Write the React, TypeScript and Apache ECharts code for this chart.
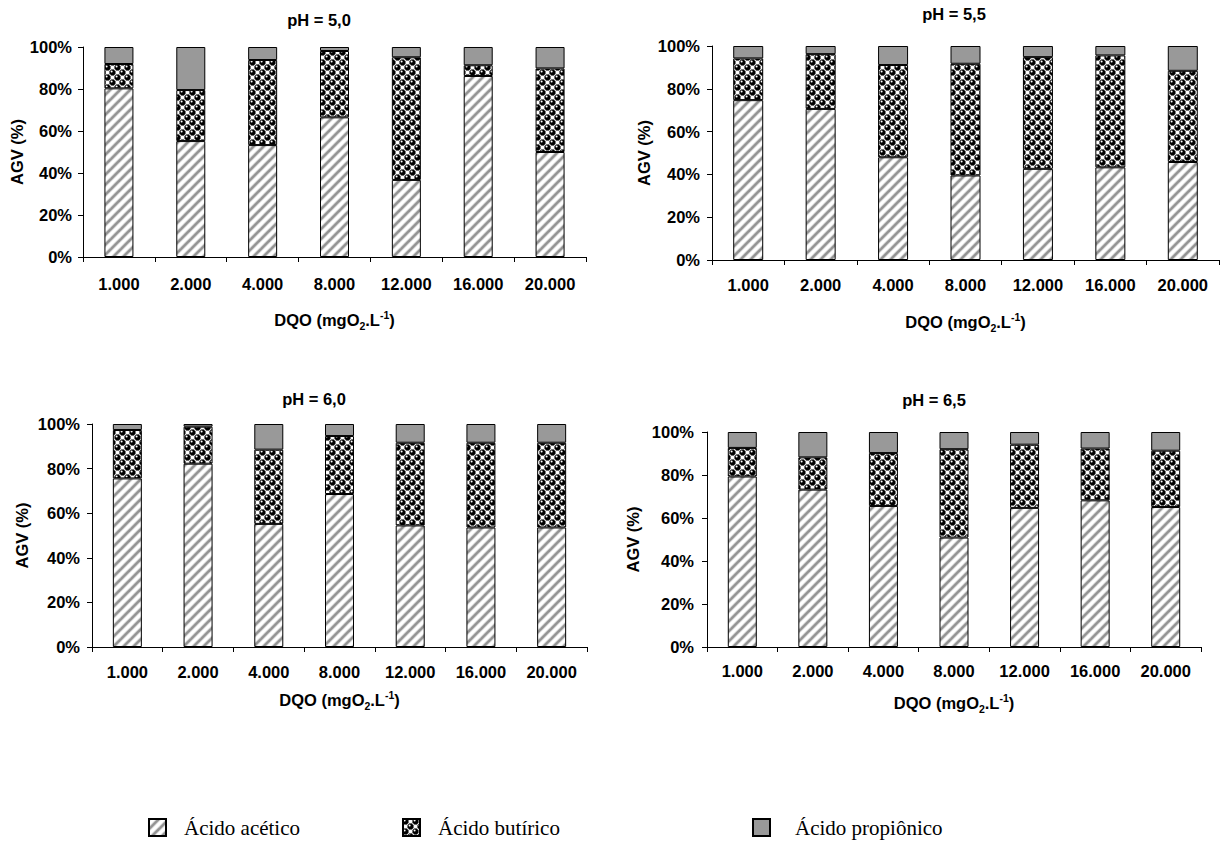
import React, { useEffect, useRef } from 'react';
import * as echarts from 'echarts';

// ---- Data ----
const dqoLabels = ['1.000', '2.000', '4.000', '8.000', '12.000', '16.000', '20.000'];
const seriesNames = ['Ácido acético', 'Ácido butírico', 'Ácido propiônico'];
const panelTitles = ['pH = 5,0', 'pH = 5,5', 'pH = 6,0', 'pH = 6,5'];
const yMin = 0;
const yMax = 100;
const yStep = 20;

const acetic50 = [80.3, 55.2, 53.3, 66.5, 36.7, 86.2, 50.0];
const butyric50 = [11.6, 24.3, 40.5, 31.6, 58.4, 5.1, 39.8];
const propionic50 = [8.1, 20.5, 6.2, 1.9, 4.9, 8.7, 10.2];

const acetic55 = [74.7, 70.6, 48.0, 39.5, 42.6, 43.3, 45.8];
const butyric55 = [19.5, 25.6, 43.1, 52.2, 52.2, 52.3, 42.6];
const propionic55 = [5.8, 3.8, 8.9, 8.3, 5.2, 4.4, 11.6];

const acetic60 = [75.6, 82.2, 55.2, 68.6, 54.5, 53.6, 53.6];
const butyric60 = [21.7, 16.6, 33.3, 26.0, 37.1, 38.0, 38.0];
const propionic60 = [2.7, 1.2, 11.5, 5.4, 8.4, 8.4, 8.4];

const acetic65 = [79.3, 73.2, 65.6, 50.9, 64.7, 68.2, 65.1];
const butyric65 = [13.3, 15.0, 24.6, 41.1, 29.4, 24.1, 26.2];
const propionic65 = [7.4, 11.8, 9.8, 8.0, 5.9, 7.7, 8.7];

const panelData = [
  [acetic50, butyric50, propionic50],
  [acetic55, butyric55, propionic55],
  [acetic60, butyric60, propionic60],
  [acetic65, butyric65, propionic65],
];

// ---- Layout (positions / styles) ----
const layouts = [
  { titleX: 319, titleY: 11, grid: { left: 83, top: 47, width: 503, height: 210 }, barWidth: 29, yLabelMargin: 11, yNameGap: 54, xLabelMargin: 18, xNameGap: 52 },
  { titleX: 954, titleY: 5, grid: { left: 712, top: 46, width: 507, height: 214 }, barWidth: 30, yLabelMargin: 12, yNameGap: 60, xLabelMargin: 16, xNameGap: 51 },
  { titleX: 314, titleY: 390, grid: { left: 92, top: 424, width: 495, height: 223 }, barWidth: 29, yLabelMargin: 12, yNameGap: 62, xLabelMargin: 16, xNameGap: 42 },
  { titleX: 934, titleY: 391, grid: { left: 707, top: 432, width: 494, height: 215 }, barWidth: 29, yLabelMargin: 13, yNameGap: 66, xLabelMargin: 15, xNameGap: 45 },
];
const legendLefts = [148, 402, 752];
const legendTextPad = [13, 13, 20];
const legendTop = 817;

const FONT = '"Liberation Sans", Arial, Helvetica, sans-serif';
const SERIF = '"Liberation Serif", "Times New Roman", serif';
const FS = 16.5;

function makeCanvas(w: number, h: number, draw: (ctx: CanvasRenderingContext2D) => void) {
  const c = document.createElement('canvas');
  c.width = w;
  c.height = h;
  const ctx = c.getContext('2d') as CanvasRenderingContext2D;
  draw(ctx);
  return c;
}

function aceticPattern() {
  const s = 10;
  const c = makeCanvas(s, s, (ctx) => {
    ctx.fillStyle = '#ffffff';
    ctx.fillRect(0, 0, s, s);
    const stripes = (w: number, col: string) => {
      ctx.strokeStyle = col;
      ctx.lineWidth = w;
      for (const k of [-s, 0, s]) {
        ctx.beginPath();
        ctx.moveTo(k - 2, s + 2);
        ctx.lineTo(k + s + 2, -2);
        ctx.stroke();
      }
    };
    stripes(4, '#d2d2d2');
    stripes(2.2, '#929292');
  });
  return { image: c, repeat: 'repeat', imageWidth: s, imageHeight: s };
}

function butyricPattern() {
  const s = 10;
  const c = makeCanvas(s, s, (ctx) => {
    ctx.fillStyle = '#ffffff';
    ctx.fillRect(0, 0, s, s);
    const offs = [-s, 0, s];
    ctx.strokeStyle = '#8a8a8a';
    ctx.lineWidth = 0.9;
    for (const [cx, cy] of [[7.5, 2.5], [2.5, 7.5]]) {
      for (const dx of offs) for (const dy of offs) {
        ctx.beginPath();
        ctx.arc(cx + dx, cy + dy, 2.3, 0, Math.PI * 2);
        ctx.stroke();
      }
    }
    for (const [cx, cy] of [[2.5, 2.5], [7.5, 7.5]]) {
      for (const dx of offs) for (const dy of offs) {
        ctx.fillStyle = '#000000';
        ctx.beginPath();
        ctx.arc(cx + dx, cy + dy, 2.9, 0, Math.PI * 2);
        ctx.fill();
        ctx.fillStyle = '#ffffff';
        ctx.beginPath();
        ctx.arc(cx + dx - 0.9, cy + dy - 0.9, 1.0, 0, Math.PI * 2);
        ctx.fill();
      }
    }
  });
  return { image: c, repeat: 'repeat', imageWidth: s, imageHeight: s };
}

export default function App() {
  const ref = useRef<HTMLDivElement>(null);

  useEffect(() => {
    if (!ref.current) return;
    const chart = echarts.init(ref.current, null, { renderer: 'svg' });

    const fills: any[] = [aceticPattern(), butyricPattern(), '#999999'];

    const titles = layouts.map((l, i) => ({
      text: panelTitles[i],
      left: l.titleX,
      top: l.titleY,
      padding: 0,
      textAlign: 'center',
      textStyle: { fontFamily: FONT, fontSize: FS, fontWeight: 'bold', color: '#000' },
    }));

    const grids = layouts.map((l) => ({ ...l.grid, containLabel: false }));

    const xAxes = layouts.map((l, i) => ({
      type: 'category',
      gridIndex: i,
      data: dqoLabels,
      name: '{a|DQO (mgO}{s|2}{a|.L}{p|-1}{a|)}',
      nameLocation: 'middle',
      nameGap: l.xNameGap,
      nameTextStyle: {
        rich: {
          a: { fontFamily: FONT, fontSize: FS, fontWeight: 'bold', color: '#000', lineHeight: 22, verticalAlign: 'middle' },
          s: { fontFamily: FONT, fontSize: 10.5, fontWeight: 'bold', color: '#000', verticalAlign: 'bottom' },
          p: { fontFamily: FONT, fontSize: 10.5, fontWeight: 'bold', color: '#000', verticalAlign: 'top' },
        },
      },
      axisLine: { show: true, lineStyle: { color: '#000', width: 1 } },
      axisTick: { show: true, length: 5, lineStyle: { color: '#000' } },
      axisLabel: { fontFamily: FONT, fontSize: FS, fontWeight: 'bold', color: '#000', margin: l.xLabelMargin, interval: 0 },
      splitLine: { show: false },
    }));

    const yAxes = layouts.map((l, i) => ({
      type: 'value',
      gridIndex: i,
      min: yMin,
      max: yMax,
      interval: yStep,
      name: 'AGV (%)',
      nameLocation: 'middle',
      nameGap: l.yNameGap,
      nameTextStyle: { fontFamily: FONT, fontSize: FS, fontWeight: 'bold', color: '#000' },
      axisLine: { show: true, lineStyle: { color: '#000', width: 1 } },
      axisTick: { show: true, length: 5, lineStyle: { color: '#000' } },
      axisLabel: { fontFamily: FONT, fontSize: FS, fontWeight: 'bold', color: '#000', margin: l.yLabelMargin, formatter: '{value}%' },
      splitLine: { show: false },
    }));

    const series: any[] = [];
    layouts.forEach((l, i) => {
      panelData[i].forEach((vals, k) => {
        series.push({
          type: 'bar',
          name: seriesNames[k],
          xAxisIndex: i,
          yAxisIndex: i,
          stack: 'panel' + i,
          barWidth: l.barWidth,
          data: vals,
          itemStyle: { color: fills[k], borderColor: '#000', borderWidth: 1 },
          emphasis: { disabled: true },
        });
      });
    });

    const legends = seriesNames.map((n, k) => ({
      data: [n],
      left: legendLefts[k],
      top: legendTop,
      padding: 0,
      itemWidth: 17,
      itemHeight: 17,
      icon: 'rect',
      selectedMode: false,
      textStyle: { fontFamily: SERIF, fontSize: 21, color: '#000', padding: [0, 0, 0, legendTextPad[k]] },
    }));

    chart.setOption({
      animation: false,
      backgroundColor: '#ffffff',
      title: titles,
      legend: legends,
      grid: grids,
      xAxis: xAxes,
      yAxis: yAxes,
      series,
    });

    return () => chart.dispose();
  }, []);

  return <div ref={ref} style={{ position: 'absolute', left: 0, top: 0, width: 1220, height: 842 }} />;
}
